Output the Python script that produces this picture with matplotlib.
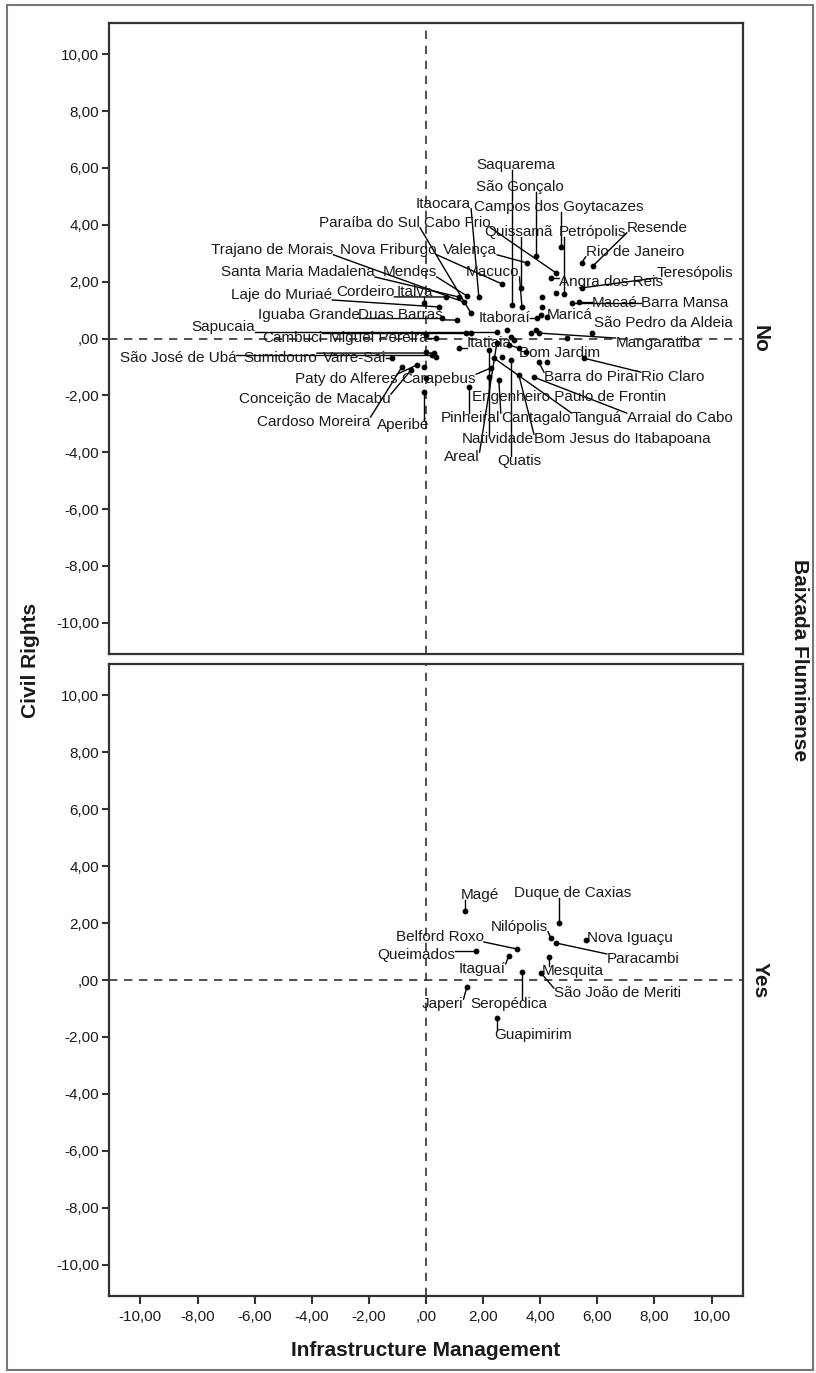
"""Scatter of Civil Rights vs Infrastructure Management, split by Baixada Fluminense."""

from __future__ import annotations

import math

import matplotlib

matplotlib.use("Agg")
import matplotlib.pyplot as plt
from matplotlib.patches import Rectangle

plt.rcParams["font.family"] = ["Liberation Sans", "DejaVu Sans"]

# --- panel "No": labelled municipalities ---------------------------------
NO_NAMES = [
    "Saquarema", "São Gonçalo", "Campos dos Goytacazes", "Itaocara", "Paraíba do Sul",
    "Cabo Frio", "Quissamã", "Petrópolis", "Resende", "Rio de Janeiro",
    "Teresópolis", "Angra dos Reis", "Trajano de Morais", "Nova Friburgo", "Valença",
    "Santa Maria Madalena", "Mendes", "Macuco", "Laje do Muriaé", "Cordeiro",
    "Italva", "Iguaba Grande", "Duas Barras", "Sapucaia", "Cambuci",
    "Miguel Pereira", "São José de Ubá", "Sumidouro", "Varre-Sai", "Paty do Alferes",
    "Carapebus", "Conceição de Macabu", "Cardoso Moreira", "Aperibé", "Itaboraí",
    "Maricá", "Macaé", "Barra Mansa", "São Pedro da Aldeia", "Mangaratiba",
    "Itatiaia", "Bom Jardim", "Barra do Piraí", "Rio Claro", "Engenheiro Paulo de Frontin",
    "Pinheiral", "Cantagalo", "Tanguá", "Arraial do Cabo", "Natividade",
    "Bom Jesus do Itabapoana", "Areal", "Quatis",
]
NO_INFRA = [
    3.01, 3.85, 4.72, 1.85, 1.57,
    4.55, 3.32, 4.83, 5.84, 5.45,
    5.45, 4.37, 1.33, 2.66, 3.53,
    1.15, 1.43, 3.36, 0.45, 0.70,
    -0.07, 0.56, 1.08, 2.48, 1.40,
    0.35, 0.21, 0.28, -1.19, -0.31,
    2.27, -0.52, -0.84, -0.07, 3.88,
    4.02, 5.35, 5.10, 5.80, 3.95,
    1.15, 2.90, 3.95, 5.52, 2.20,
    1.50, 2.55, 2.38, 3.78, 2.20,
    3.25, 2.48, 2.97,
]
NO_RIGHTS = [
    1.18, 2.90, 3.22, 1.46, 0.90,
    2.31, 1.78, 1.57, 2.55, 2.66,
    1.78, 2.13, 1.28, 1.92, 2.66,
    1.46, 1.50, 1.11, 1.11, 1.46,
    1.25, 0.72, 0.65, 0.23, 0.19,
    0.02, -0.58, -0.51, -0.69, -0.93,
    -1.04, -1.11, -1.00, -1.88, 0.72,
    0.83, 1.28, 1.25, 0.19, 0.19,
    -0.33, -0.23, -0.83, -0.69, -1.36,
    -1.71, -1.46, -0.69, -1.36, -0.40,
    -1.29, -0.16, -0.76,
]
# points in the "No" panel whose labels were suppressed
NO_OTHER_INFRA = [0.00, 2.97, 3.08, 3.67, 3.85, 4.93, 3.25, 3.50, 0.00, 0.35,
                  2.66, 4.23, 0.00, 4.55, 4.06, 4.06, 2.83, 4.23, -0.07, 1.57]
NO_OTHER_RIGHTS = [0.12, 0.05, -0.05, 0.19, 0.30, 0.02, -0.33, -0.48, -0.48, -0.65,
                   -0.65, -0.83, -1.39, 1.60, 1.46, 1.11, 0.30, 0.76, -1.00, 0.19]

# --- panel "Yes" -----------------------------------------------------------
YES_NAMES = [
    "Magé", "Duque de Caxias", "Nilópolis", "Belford Roxo", "Nova Iguaçu",
    "Queimados", "Paracambi", "Itaguaí", "Mesquita", "São João de Meriti",
    "Japeri", "Seropédica", "Guapimirim",
]
YES_INFRA = [1.36, 4.65, 4.37, 3.18, 5.59, 1.75, 4.55, 2.90, 4.30, 4.02, 1.43, 3.36, 2.48]
YES_RIGHTS = [2.43, 2.00, 1.48, 1.09, 1.41, 1.02, 1.30, 0.85, 0.81, 0.25, -0.25, 0.28, -1.34]

# label anchors (left edge, vertical centre) in data units
NO_LABEL_X = [
    1.75, 1.75, 1.68, -0.35, -3.74, -0.07, 2.03, 4.65, 7.03, 5.59,
    8.08, 4.65, -7.52, -3.00, 0.60, -7.17, -1.52, 1.40, -6.82, -3.15,
    -1.02, -5.90, -2.38, -8.22, -5.73, -3.39, -10.73, -6.40, -3.62, -4.60,
    -0.85, -6.54, -5.91, -1.71, 1.85, 4.23, 5.80, 7.52, 5.87, 6.64,
    1.43, 3.25, 4.13, 7.52, 1.61, 0.52, 2.62, 5.10, 7.03, 1.26,
    3.78, 0.63, 2.48,
]
NO_LABEL_Y = [
    6.11, 5.33, 4.63, 4.74, 4.07, 4.07, 3.75, 3.75, 3.89, 3.05,
    2.31, 1.99, 3.12, 3.12, 3.12, 2.34, 2.34, 2.34, 1.53, 1.64,
    1.64, 0.83, 0.83, 0.40, 0.02, 0.02, -0.69, -0.69, -0.69, -1.43,
    -1.43, -2.13, -2.94, -3.05, 0.72, 0.83, 1.25, 1.25, 0.55, -0.16,
    -0.16, -0.51, -1.36, -1.36, -2.06, -2.80, -2.80, -2.80, -2.80, -3.54,
    -3.54, -4.17, -4.31,
]
YES_LABEL_X = [1.22, 3.08, 2.27, -1.05, 5.63, -1.71, 6.33, 1.15, 4.06, 4.48, -0.14, 1.57, 2.38]
YES_LABEL_Y = [2.99, 3.06, 1.87, 1.51, 1.48, 0.88, 0.74, 0.39, 0.32, -0.46, -0.85, -0.85, -1.94]

TICKS = list(range(-10, 11, 2))
LIMIT = 11.1
FIG_W, FIG_H = 816, 1373
TEXT_COLOR = "#1a1a1a"


def fmt_tick(value: float) -> str:
    """SPSS style tick text: comma decimal, no leading zero for zero."""

    if value == 0:
        return ",00"
    return f"{value:.2f}".replace(".", ",")


def style_panel(ax, show_x: bool) -> None:
    """Apply the boxed SPSS look to one panel."""

    ax.set_xlim(-LIMIT, LIMIT)
    ax.set_ylim(-LIMIT, LIMIT)
    ax.set_yticks(TICKS)
    ax.set_yticklabels([fmt_tick(t) for t in TICKS], fontsize=11, color=TEXT_COLOR)
    ax.set_xticks(TICKS)
    if show_x:
        ax.set_xticklabels([fmt_tick(t) for t in TICKS], fontsize=11, color=TEXT_COLOR)
        ax.tick_params(axis="x", length=6, width=1.5, color="#333333", pad=4)
    else:
        ax.tick_params(axis="x", length=0, labelbottom=False)
    ax.tick_params(axis="y", length=5, width=1.5, color="#333333", pad=2)
    for spine in ax.spines.values():
        spine.set_linewidth(1.6)
        spine.set_color("#333333")
    ax.axhline(0, color="#333333", lw=1.2, ls=(0, (5, 4)), zorder=1)
    ax.axvline(0, color="#333333", lw=1.2, ls=(0, (5, 4)), zorder=1)


def label_points(fig, ax, names, xs, ys, lxs, lys) -> None:
    """Place labels and join each one to its point when it sits away from it."""

    texts = [
        ax.text(lx, ly, name, ha="left", va="center", fontsize=11, color=TEXT_COLOR, zorder=3)
        for name, lx, ly in zip(names, lxs, lys)
    ]
    fig.canvas.draw()
    renderer = fig.canvas.get_renderer()
    inverse = ax.transData.inverted()
    for text, x, y in zip(texts, xs, ys):
        bb = text.get_window_extent(renderer)
        px, py = ax.transData.transform((x, y))
        cx = min(max(px, bb.x0), bb.x1)
        cy = min(max(py, bb.y0 + 2), bb.y1 - 2)
        if math.hypot(px - cx, py - cy) > 6:
            sx, sy = inverse.transform((cx, cy))
            ax.plot([sx, x], [sy, y], color="black", lw=1.0, zorder=2)


def main() -> None:
    fig = plt.figure(figsize=(FIG_W / 100, FIG_H / 100), dpi=100)
    left = 109 / FIG_W
    width = (743 - 109) / FIG_W
    ax_no = fig.add_axes([left, 1 - 654 / FIG_H, width, (654 - 23) / FIG_H])
    ax_yes = fig.add_axes([left, 1 - 1296 / FIG_H, width, (1296 - 664) / FIG_H])

    style_panel(ax_no, show_x=False)
    style_panel(ax_yes, show_x=True)

    ax_no.scatter(NO_INFRA, NO_RIGHTS, s=10, color="black", zorder=4)
    ax_no.scatter(NO_OTHER_INFRA, NO_OTHER_RIGHTS, s=10, color="black", zorder=4)
    ax_yes.scatter(YES_INFRA, YES_RIGHTS, s=10, color="black", zorder=4)

    label_points(fig, ax_no, NO_NAMES, NO_INFRA, NO_RIGHTS, NO_LABEL_X, NO_LABEL_Y)
    label_points(fig, ax_yes, YES_NAMES, YES_INFRA, YES_RIGHTS, YES_LABEL_X, YES_LABEL_Y)

    ax_yes.set_xlabel("Infrastructure Management", fontsize=15, fontweight="bold",
                      color=TEXT_COLOR, labelpad=12)

    title_kw = dict(fontsize=15, fontweight="bold", color=TEXT_COLOR, va="center", ha="center")
    fig.text(30 / FIG_W, 1 - 660 / FIG_H, "Civil Rights", rotation=90, **title_kw)
    fig.text(799 / FIG_W, 1 - 660 / FIG_H, "Baixada Fluminense", rotation=-90, **title_kw)
    fig.text(760 / FIG_W, 1 - 339 / FIG_H, "No", rotation=-90, **title_kw)
    fig.text(760 / FIG_W, 1 - 980 / FIG_H, "Yes", rotation=-90, **title_kw)

    fig.add_artist(Rectangle((7 / FIG_W, 3 / FIG_H), (813 - 7) / FIG_W, (1368 - 3) / FIG_H,
                             transform=fig.transFigure, fill=False, ec="#777777", lw=1.5))

    fig.savefig("out.png", dpi=100)
    plt.close(fig)


if __name__ == "__main__":
    main()
